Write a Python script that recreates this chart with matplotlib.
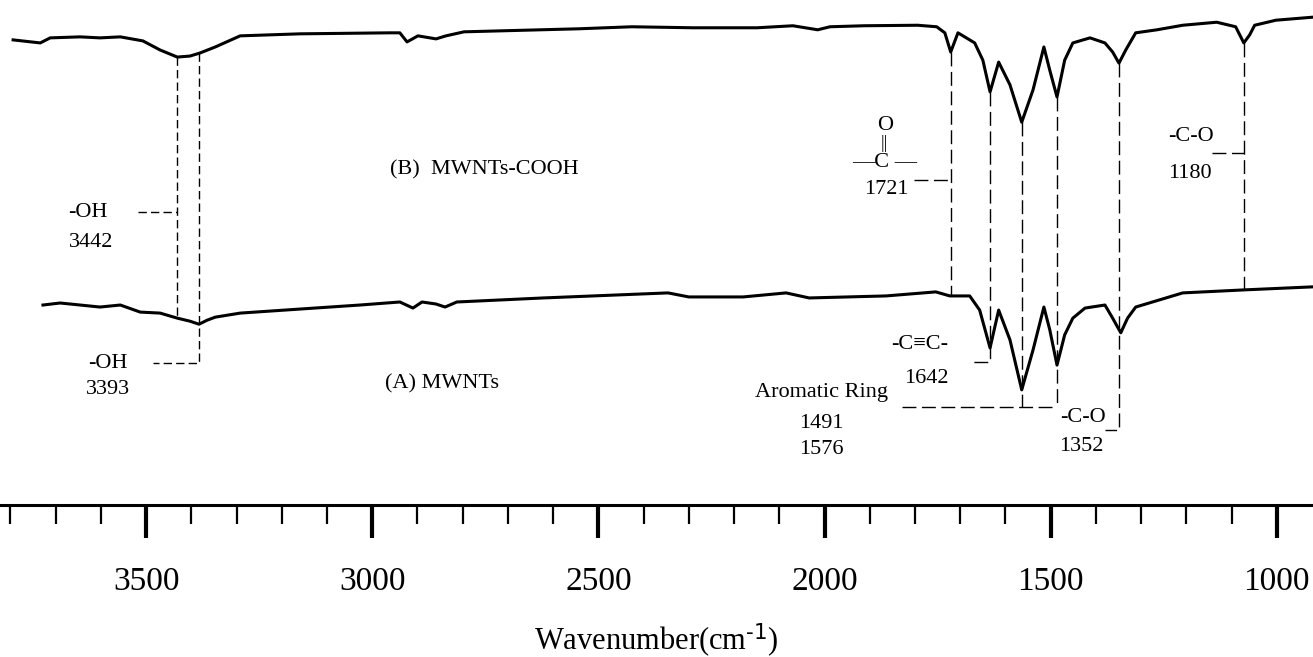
import numpy as np
import matplotlib
matplotlib.use('Agg')
import matplotlib.pyplot as plt

plt.rcParams['font.family'] = ['Liberation Serif', 'DejaVu Serif']
plt.rcParams['mathtext.default'] = 'regular'

# spectrum B: MWNTs-COOH (wavenumber, transmittance a.u.)
wn_b = [3794, 3734, 3712, 3646, 3602, 3557, 3507, 3469, 3431, 3403, 3381, 3347,
        3292, 3160, 2961, 2939, 2923, 2899, 2859, 2837, 2797, 2543, 2426, 2291,
        2149, 2070, 2015, 1988, 1913, 1794, 1752, 1734, 1721, 1705, 1668, 1650,
        1634, 1615, 1590, 1564, 1539, 1515, 1502, 1486, 1469, 1451, 1413, 1380,
        1363, 1349, 1334, 1312, 1265, 1208, 1133, 1091, 1073, 1060, 1049, 1002, 920]
t_b = [92.1, 91.5, 92.5, 92.7, 92.5, 92.7, 91.9, 90.1, 88.7, 88.9, 89.5, 90.7,
       92.9, 93.3, 93.5, 93.5, 91.7, 92.9, 92.3, 92.9, 93.7, 94.3, 94.7, 94.5,
       94.5, 94.9, 94.1, 94.7, 94.9, 95.0, 94.7, 93.5, 89.7, 93.5, 91.5, 88.1,
       81.8, 87.7, 83.2, 75.8, 82.2, 90.7, 86.1, 80.8, 88.1, 91.5, 92.5, 91.5,
       89.7, 87.5, 90.1, 93.5, 94.1, 95.0, 95.6, 94.7, 91.5, 93.1, 95.0, 96.0, 96.6]

# spectrum A: MWNTs
wn_a = [3728, 3690, 3602, 3557, 3513, 3469, 3431, 3403, 3383, 3365, 3347, 3292,
        3160, 3027, 2939, 2910, 2890, 2859, 2839, 2813, 2622, 2346, 2300, 2180,
        2085, 2034, 1864, 1754, 1723, 1679, 1657, 1634, 1615, 1590, 1564, 1539,
        1515, 1502, 1486, 1469, 1451, 1424, 1380, 1363, 1345, 1330, 1312, 1208,
        1071, 920]
t_a = [39.6, 40.0, 39.2, 39.6, 38.2, 38.0, 37.0, 36.4, 35.8, 36.6, 37.2, 38.0,
       38.8, 39.6, 40.2, 39.0, 40.2, 39.8, 39.2, 40.2, 41.0, 42.0, 41.2, 41.2,
       42.0, 41.0, 41.4, 42.2, 41.4, 41.4, 38.6, 31.1, 38.6, 32.7, 22.8, 30.7,
       39.2, 34.7, 27.7, 33.7, 37.0, 39.0, 39.6, 37.0, 34.1, 37.0, 39.2, 42.0,
       42.6, 43.2]

fig = plt.figure(figsize=(13.13, 6.57), dpi=100)
ax = fig.add_axes([0, 152 / 657, 1, 505 / 657])
ax.set_xlim(3823, 920)
ax.set_ylim(0, 100)

ax.plot(wn_b, t_b, color='black', lw=2.2, solid_joinstyle='round')
ax.plot(wn_a, t_a, color='black', lw=2.2, solid_joinstyle='round')

def tb(w):
    return np.interp(w, wn_b[::-1], t_b[::-1])

def ta(w):
    return np.interp(w, wn_a[::-1], t_a[::-1])

short = dict(color='black', lw=1.0, dashes=(6, 3))
long_ = dict(color='black', lw=1.0, dashes=(10, 4))

# -OH bands
ax.plot([3431, 3431], [tb(3431), ta(3431)], **short)
ax.plot([3518, 3431], [58.0, 58.0], **short)
ax.plot([3383, 3383, 3485], [tb(3383), 28.1, 28.1], **short)

# carbonyl 1721
ax.plot([1721, 1721], [tb(1721), ta(1721)], **long_)
ax.plot([1802, 1721], [64.4, 64.4], **long_)
# C=C 1642
ax.plot([1634, 1634, 1672], [tb(1634), 28.3, 28.3], **long_)
# aromatic ring
ax.plot([1564, 1564], [tb(1564), 19.4], **long_)
ax.plot([1486, 1486], [tb(1486), 19.4], **long_)
ax.plot([1829, 1486], [19.4, 19.4], **long_)
# C-O 1352
ax.plot([1349, 1349, 1380], [tb(1349), 14.9, 14.9], **long_)
# C-O 1180
ax.plot([1073, 1073], [tb(1073), ta(1073)], **long_)
ax.plot([1144, 1073], [69.7, 69.7], **long_)

fs = 16
txt = dict(fontsize=fs, ha='center', va='center')
ax.text(3628, 58.0, '-OH', **txt)
ax.text(3622, 51.9, '3442', **txt)
ax.text(3584, 28.1, '-OH', **txt)
ax.text(3584, 22.8, '3393', **txt)
ax.text(2961, 66.3, '(B)  MWNTs-COOH', fontsize=fs, ha='left', va='center')
ax.text(2972, 24.0, '(A) MWNTs', fontsize=fs, ha='left', va='center')
ax.text(1867, 75.2, 'O', **txt)
ax.text(1867, 71.6, '||', fontsize=13, ha='center', va='center')
ax.text(1867, 67.9, '—C —', **txt)
ax.text(1864, 62.4, '1721', **txt)
ax.text(1789, 31.7, '-C≡C-', **txt)
ax.text(1774, 25.1, '1642', **txt)
ax.text(2006, 22.2, 'Aromatic Ring', **txt)
ax.text(2008, 16.2, '1491', **txt)
ax.text(2008, 10.9, '1576', **txt)
ax.text(1429, 17.4, '-C-O', **txt)
ax.text(1433, 11.5, '1352', **txt)
ax.text(1190, 72.9, '-C-O', **txt)
ax.text(1192, 65.7, '1180', **txt)

for s in ['top', 'left', 'right']:
    ax.spines[s].set_visible(False)
ax.spines['bottom'].set_linewidth(2.2)
ax.set_yticks([])
ax.set_xticks(np.arange(1000, 3501, 500))
ax.set_xticks(np.arange(1000, 3801, 100), minor=True)
ax.tick_params(axis='x', which='major', direction='out', length=24, width=3,
               labelsize=24, pad=20)
ax.tick_params(axis='x', which='minor', direction='out', length=14, width=1.6)
ax.set_xlabel('Wavenumber(cm$^{\\text{-1}}$)', fontsize=22, labelpad=18)

fig.savefig('out.png', dpi=100)
